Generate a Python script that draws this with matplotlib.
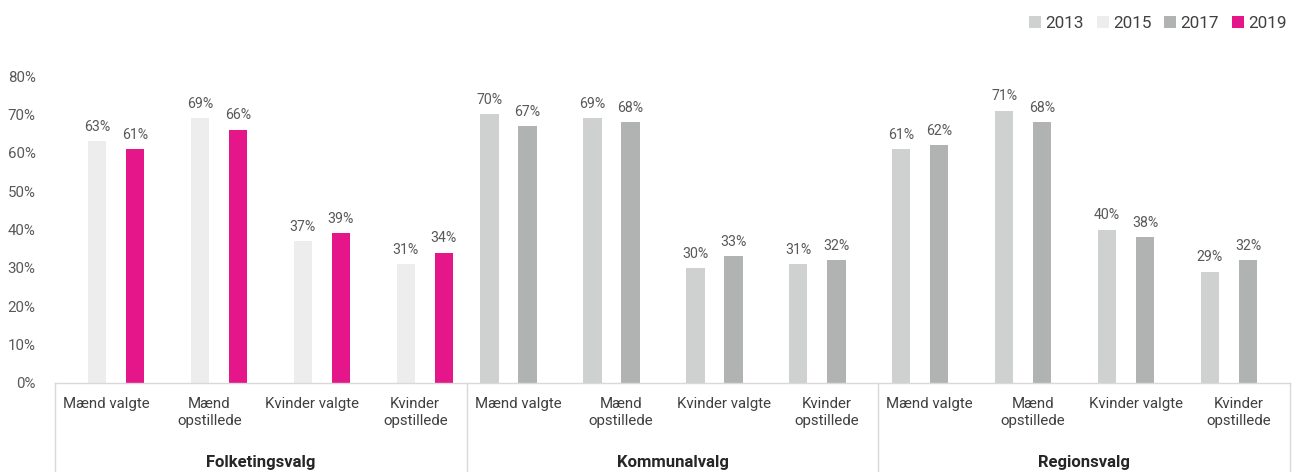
import numpy as np
import matplotlib
matplotlib.use("Agg")
import matplotlib.pyplot as plt
from matplotlib.patches import Patch

plt.rcParams['font.family'] = ['Roboto', 'DejaVu Sans']

groups = ["Folketingsvalg", "Kommunalvalg", "Regionsvalg"]
categories = ["Mænd valgte", "Mænd\nopstillede", "Kvinder valgte", "Kvinder\nopstillede"]
years = ["2013", "2015", "2017", "2019"]

# values per year across the 12 category slots (4 per group); None = no bar
v2013 = [None, None, None, None, 70, 69, 30, 31, 61, 71, 40, 29]
v2015 = [63, 69, 37, 31, None, None, None, None, None, None, None, None]
v2017 = [None, None, None, None, 67, 68, 33, 32, 62, 68, 38, 32]
v2019 = [61, 66, 39, 34, None, None, None, None, None, None, None, None]
yticks = [0, 10, 20, 30, 40, 50, 60, 70, 80]

colors = ["#cfd0d0", "#ededed", "#b1b3b3", "#e5168a"]
series = [v2013, v2015, v2017, v2019]

fig = plt.figure(figsize=(12.94, 4.72), dpi=100)
ax = fig.add_axes([55/1294, 1-383/472, (1290-55)/1294, (383-76)/472])

n = len(groups) * len(categories)
slot = 0.185
width = 0.178
centers = np.arange(n) + 0.5
for k, (vals, col) in enumerate(zip(series, colors)):
    xs, hs = [], []
    for i, v in enumerate(vals):
        if v is not None:
            xs.append(centers[i] + (k - 1.5) * slot)
            hs.append(v)
    bars = ax.bar(xs, hs, width=width, color=col, zorder=2)
    for b, h in zip(bars, hs):
        ax.text(b.get_x() + b.get_width()/2, h + 1.9, f"{h}%", ha="center", va="bottom",
                fontsize=10.2, color="#595959")

ax.set_xlim(0, n)
ax.set_ylim(0, 80)
ax.set_yticks(yticks)
ax.set_yticklabels([f"{t}%" for t in yticks], fontsize=10.8, color="#595959")
ax.tick_params(axis="y", length=0, pad=14)
ax.tick_params(axis="x", length=0)
ax.set_xticks([])
for s in ["top", "right", "left"]:
    ax.spines[s].set_visible(False)
ax.spines["bottom"].set_color("#d9d9d9")
ax.spines["bottom"].set_linewidth(1.0)

trans = ax.get_xaxis_transform()
for i in range(n):
    ax.text(centers[i], -0.045, categories[i % 4], transform=trans, ha="center", va="top",
            fontsize=10.8, color="#404040", linespacing=1.3)
for g, name in enumerate(groups):
    ax.text(g*4 + 2, -0.235, name, transform=trans, ha="center", va="top",
            fontsize=12, fontweight="bold", color="#262626")
for g in range(len(groups) + 1):
    ax.plot([g*4, g*4], [0, -0.30], transform=trans, color="#d9d9d9", lw=1.0, clip_on=False)

handles = [Patch(facecolor=c, edgecolor="none") for c in colors]
leg = fig.legend(handles, years, loc="upper right", bbox_to_anchor=(1.006, 0.998), ncol=4, frameon=False,
                 fontsize=12.3, handlelength=0.7, handleheight=0.7, handletextpad=0.25,
                 columnspacing=0.75, labelcolor="#404040")

fig.savefig("out.png", dpi=100)
